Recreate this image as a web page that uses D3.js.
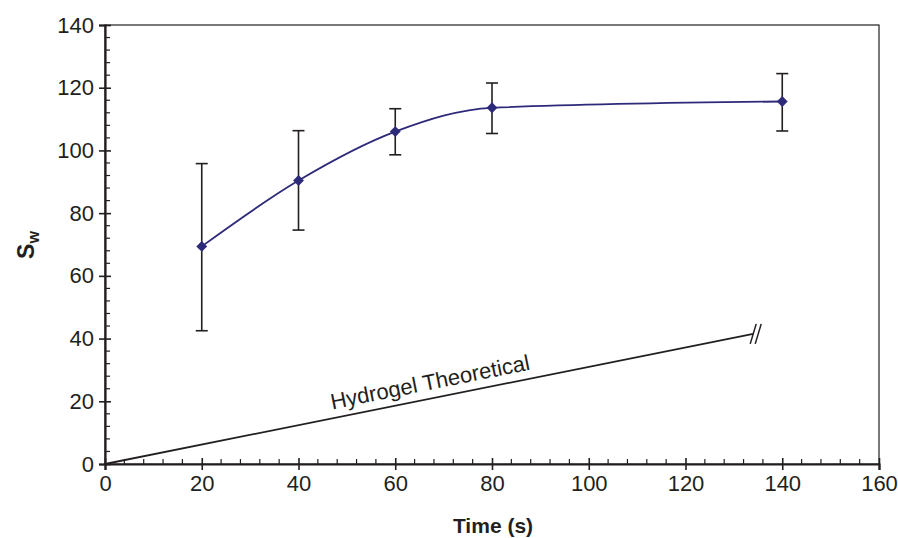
<!DOCTYPE html>
<html>
<head>
<meta charset="utf-8">
<script src="https://cdn.jsdelivr.net/npm/d3@7"></script>
<style>
  body { margin: 0; background: #fff; }
  text { font-family: "Liberation Sans", Arial, sans-serif; fill: #231f20; }
</style>
</head>
<body>
<div id="plot"></div>
<script>
var width = 898;
var height = 538;

// measured data
var times = [20, 40, 60, 80, 140];
var sw = [69.4, 90.4, 106, 113.6, 115.6];
var errTop = [95.8, 106.3, 113.3, 121.5, 124.5];
var errBottom = [42.5, 74.6, 98.6, 105.4, 106.2];

var theoryX = [0, 134];
var theoryY = [0, 41.5];

var xTicks = [0, 20, 40, 60, 80, 100, 120, 140, 160];
var yTicks = [0, 20, 40, 60, 80, 100, 120, 140];

var pLeft = 105, pRight = 879, pTop = 25, pBottom = 464;

var canvas = d3.select('#plot')
    .append('svg')
    .attr('width', width)
    .attr('height', height);

var x_scale = d3.scaleLinear().domain([0, 160]).range([pLeft, pRight]);
var y_scale = d3.scaleLinear().domain([0, 140]).range([pBottom, pTop]);

// frame
canvas.append('rect')
    .attr('x', pLeft).attr('y', pTop)
    .attr('width', pRight - pLeft).attr('height', pBottom - pTop)
    .attr('fill', 'none')
    .attr('stroke', '#231f20')
    .attr('stroke-width', 1.2);

// minor ticks (inside)
var xMinor = d3.range(0, 161, 4).filter(function(d) { return d % 20 !== 0; });
var yMinor = d3.range(0, 141, 4).filter(function(d) { return d % 20 !== 0; });

canvas.selectAll('line.xminor')
    .data(xMinor).enter().append('line')
    .attr('class', 'xminor')
    .attr('x1', function(d) { return x_scale(d); })
    .attr('x2', function(d) { return x_scale(d); })
    .attr('y1', pBottom).attr('y2', pBottom - 5)
    .attr('stroke', '#231f20').attr('stroke-width', 1.2);

canvas.selectAll('line.yminor')
    .data(yMinor).enter().append('line')
    .attr('class', 'yminor')
    .attr('y1', function(d) { return y_scale(d); })
    .attr('y2', function(d) { return y_scale(d); })
    .attr('x1', pLeft).attr('x2', pLeft + 5)
    .attr('stroke', '#231f20').attr('stroke-width', 1.2);

// major axes
var x_axis = d3.axisBottom(x_scale).tickValues(xTicks).tickSize(6).tickPadding(5);
var gx = canvas.append('g')
    .attr('transform', 'translate(0,' + pBottom + ')')
    .call(x_axis);

var y_axis = d3.axisLeft(y_scale).tickValues(yTicks).tickSize(6).tickPadding(5);
var gy = canvas.append('g')
    .attr('transform', 'translate(' + pLeft + ',0)')
    .call(y_axis);

[gx, gy].forEach(function(g) {
    g.select('.domain').attr('stroke', '#231f20').attr('stroke-width', 2.2);
    g.selectAll('.tick line').attr('stroke', '#231f20').attr('stroke-width', 1.6);
    g.selectAll('.tick text')
        .style('font-size', '22px')
        .style('font-family', '"Liberation Sans", Arial, sans-serif')
        .attr('fill', '#231f20');
});
gx.selectAll('.tick line').attr('y1', -6);
gy.selectAll('.tick line').attr('x1', 6);

// axis titles
canvas.append('text')
    .attr('x', 493)
    .attr('y', 533)
    .attr('text-anchor', 'middle')
    .style('font-size', '21px')
    .attr('font-weight', 'bold')
    .text('Time (s)');

var ylab = canvas.append('text')
    .attr('transform', 'translate(34,' + 245 + ') rotate(-90)')
    .attr('text-anchor', 'middle')
    .style('font-size', '23px')
    .attr('font-weight', 'bold');
ylab.append('tspan').text('S');
ylab.append('tspan').style('font-size', '16px').attr('dy', 5).text('w');

// theoretical line
var theory = theoryX.map(function(d, i) { return [d, theoryY[i]]; });
canvas.append('path')
    .datum(theory)
    .attr('fill', 'none')
    .attr('stroke', '#231f20')
    .attr('stroke-width', 1.8)
    .attr('d', d3.line()
        .x(function(d) { return x_scale(d[0]); })
        .y(function(d) { return y_scale(d[1]); }));

// break marks at end
var endX = x_scale(theoryX[1]), endY = y_scale(theoryY[1]);
[0, 5].forEach(function(off) {
    canvas.append('line')
        .attr('x1', endX + off - 3).attr('y1', endY + 10)
        .attr('x2', endX + off + 3).attr('y2', endY - 10)
        .attr('stroke', '#231f20').attr('stroke-width', 1.5);
});

var ang = Math.atan2(y_scale(theoryY[1]) - y_scale(0), x_scale(theoryX[1]) - x_scale(0)) * 180 / Math.PI;
var lx = x_scale(67.5), ly = y_scale(theoryY[1] * 67.5 / theoryX[1]) - 9;
canvas.append('text')
    .attr('transform', 'translate(' + lx + ',' + ly + ') rotate(' + ang + ')')
    .attr('text-anchor', 'middle')
    .style('font-size', '22px')
    .text('Hydrogel Theoretical');

// error bars
var data = times.map(function(t, i) {
    return { t: t, v: sw[i], hi: errTop[i], lo: errBottom[i] };
});

canvas.selectAll('line.err')
    .data(data).enter().append('line')
    .attr('class', 'err')
    .attr('x1', function(d) { return x_scale(d.t); })
    .attr('x2', function(d) { return x_scale(d.t); })
    .attr('y1', function(d) { return y_scale(d.hi); })
    .attr('y2', function(d) { return y_scale(d.lo); })
    .attr('stroke', '#231f20').attr('stroke-width', 1.6);

['hi', 'lo'].forEach(function(k) {
    canvas.selectAll('line.cap-' + k)
        .data(data).enter().append('line')
        .attr('class', 'cap-' + k)
        .attr('x1', function(d) { return x_scale(d.t) - 6; })
        .attr('x2', function(d) { return x_scale(d.t) + 6; })
        .attr('y1', function(d) { return y_scale(d[k]); })
        .attr('y2', function(d) { return y_scale(d[k]); })
        .attr('stroke', '#231f20').attr('stroke-width', 1.6);
});

// smoothed series
canvas.append('path')
    .datum(data)
    .attr('fill', 'none')
    .attr('stroke', '#2e2a7a')
    .attr('stroke-width', 1.8)
    .attr('d', d3.line()
        .curve(d3.curveMonotoneX)
        .x(function(d) { return x_scale(d.t); })
        .y(function(d) { return y_scale(d.v); }));

canvas.selectAll('path.marker')
    .data(data).enter().append('path')
    .attr('class', 'marker')
    .attr('transform', function(d) { return 'translate(' + x_scale(d.t) + ',' + y_scale(d.v) + ')'; })
    .attr('d', d3.symbol().type(d3.symbolDiamond2).size(75))
    .attr('fill', '#2e2a7a');
</script>
</body>
</html>
